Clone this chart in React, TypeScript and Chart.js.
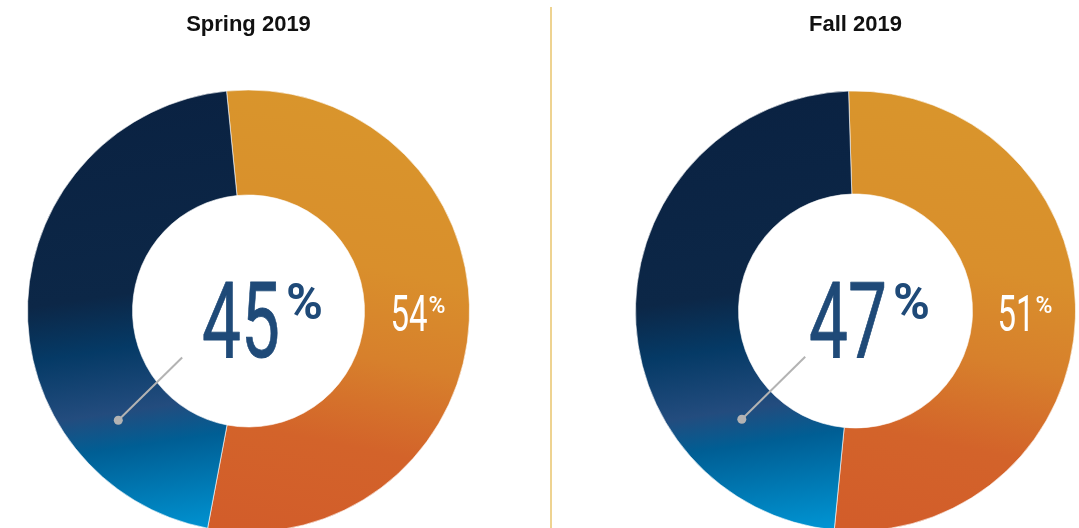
import React, { useEffect, useRef } from "react";
import { Chart, registerables } from "chart.js";

Chart.register(...registerables);

// ---- data ----
const categories = ["Share B", "Share A"]; // orange segment, navy segment
const titles = ["Spring 2019", "Fall 2019"];
const orangeValues = [54, 51];
const navyValues = [45, 47];
const rotations = [-5.7, -1.8];

// ---- styles ----
const NAVY_STOPS: [number, string][] = [
  [0, "#0a2242"],
  [0.42, "#0c2747"],
  [0.54, "#053a66"],
  [0.68, "#234c7e"],
  [0.76, "#005e94"],
  [1, "#009bdb"],
];
const ORANGE_STOPS: [number, string][] = [
  [0, "#d9952c"],
  [0.35, "#d98f2c"],
  [0.55, "#d7802c"],
  [0.75, "#d3632a"],
  [1, "#d25c2a"],
];

type Layout = {
  left: number;
  radius: number;
  cutout: number;
  pad: number;
  leader: { sR: number; sA: number; eR: number; eA: number };
};

const layouts: Layout[] = [
  { left: 0, radius: 221.5, cutout: 116, pad: 27, leader: { sR: 81, sA: 145, eR: 170, eA: 140 } },
  { left: 605, radius: 220.5, cutout: 117, pad: 30, leader: { sR: 68, sA: 137.7, eR: 157, eA: 136.4 } },
];
const CENTER_Y = 311;

function makeGrad(chart: any, stops: [number, string][], tilt: number) {
  const a = chart.chartArea;
  if (!a) return stops[0][1];
  const cx = (a.left + a.right) / 2;
  const cy = (a.top + a.bottom) / 2;
  const r = Math.min(a.right - a.left, a.bottom - a.top) / 2;
  const g = chart.ctx.createLinearGradient(cx - tilt * r, cy - r, cx + tilt * r, cy + r);
  stops.forEach(([o, c]) => g.addColorStop(o, c));
  return g;
}

function drawNumPct(
  ctx: CanvasRenderingContext2D,
  num: string,
  centerX: number,
  baseline: number,
  numFont: string,
  sx: number,
  pctFont: string,
  pctRise: number,
  gap: number,
  color: string,
  stroke: number
) {
  ctx.save();
  ctx.fillStyle = color;
  ctx.strokeStyle = color;
  ctx.textAlign = "left";
  ctx.textBaseline = "alphabetic";
  ctx.font = numFont;
  const nw = ctx.measureText(num).width * sx;
  ctx.font = pctFont;
  const pw = ctx.measureText("%").width;
  const total = nw + gap + pw;
  const left = centerX - total / 2;
  ctx.save();
  ctx.translate(left, baseline);
  ctx.scale(sx, 1);
  ctx.font = numFont;
  ctx.fillText(num, 0, 0);
  if (stroke > 0) {
    ctx.lineWidth = stroke;
    ctx.lineJoin = "round";
    ctx.strokeText(num, 0, 0);
  }
  ctx.restore();
  ctx.font = pctFont;
  ctx.fillText("%", left + nw + gap, baseline - pctRise);
  ctx.restore();
}

const overlayPlugin = {
  id: "overlay",
  afterDatasetsDraw(chart: any, _args: any, opts: any) {
    const ctx: CanvasRenderingContext2D = chart.ctx;
    const arc = chart.getDatasetMeta(0).data[0];
    if (!arc) return;
    const { x: cx, y: cy, innerRadius, outerRadius } = arc.getProps(
      ["x", "y", "innerRadius", "outerRadius"],
      true
    );
    const mid = (innerRadius + outerRadius) / 2;
    const L = opts.leader;
    const rad = (d: number) => (d * Math.PI) / 180;
    const sx = cx + L.sR * Math.cos(rad(L.sA));
    const sy = cy + L.sR * Math.sin(rad(L.sA));
    const ex = cx + L.eR * Math.cos(rad(L.eA));
    const ey = cy + L.eR * Math.sin(rad(L.eA));
    ctx.save();
    ctx.strokeStyle = "#b3b3b3";
    ctx.lineWidth = 2;
    ctx.beginPath();
    ctx.moveTo(sx, sy);
    ctx.lineTo(ex, ey);
    ctx.stroke();
    ctx.fillStyle = "#b3b3b3";
    ctx.beginPath();
    ctx.arc(ex, ey, 4.5, 0, Math.PI * 2);
    ctx.fill();
    ctx.restore();

    // center big value
    drawNumPct(
      ctx,
      String(opts.center),
      cx + 14,
      cy + 46,
      "400 105px Roboto, sans-serif",
      0.66,
      "bold 50px Roboto, sans-serif",
      38,
      6,
      "#1f4a78",
      0.8
    );
    // ring label
    drawNumPct(
      ctx,
      String(opts.outer),
      cx + mid + 1,
      cy + 20,
      "400 50px Roboto, sans-serif",
      0.66,
      "500 23px Roboto, sans-serif",
      18,
      1,
      "#ffffff",
      0
    );
    // title
    ctx.save();
    ctx.fillStyle = "#111111";
    ctx.textAlign = "center";
    ctx.textBaseline = "alphabetic";
    ctx.font = "bold 22px 'Liberation Sans', Arial, sans-serif";
    ctx.fillText(opts.title, cx, 31);
    ctx.restore();
  },
};

function Donut({ idx }: { idx: number }) {
  const ref = useRef<HTMLCanvasElement>(null);
  const lay = layouts[idx];
  const w = Math.round(2 * (lay.radius + lay.pad));
  const h = 2 * CENTER_Y;
  useEffect(() => {
    if (!ref.current) return;
    const padV = (h - 2 * lay.radius) / 2;
    const chart = new Chart(ref.current, {
      type: "doughnut",
      data: {
        labels: categories,
        datasets: [
          {
            data: [orangeValues[idx], navyValues[idx]],
            backgroundColor: (c: any) =>
              c.dataIndex === 0
                ? makeGrad(c.chart, ORANGE_STOPS, -0.2)
                : makeGrad(c.chart, NAVY_STOPS, 0.15),
            borderWidth: 1,
            borderColor: "rgba(255,255,255,0.6)",
          },
        ],
      },
      options: {
        responsive: false,
        animation: false,
        events: [],
        rotation: rotations[idx],
        cutout: lay.cutout,
        layout: {
          padding: { left: lay.pad, right: lay.pad, top: padV, bottom: padV },
        },
        plugins: {
          legend: { display: false },
          tooltip: { enabled: false },
          overlay: {
            center: navyValues[idx],
            outer: orangeValues[idx],
            title: titles[idx],
            leader: lay.leader,
          },
        } as any,
      },
      plugins: [overlayPlugin as any],
    });
    return () => chart.destroy();
  }, [idx]);
  return (
    <canvas
      ref={ref}
      width={w}
      height={h}
      style={{ position: "absolute", left: lay.left, top: 0, width: w, height: h }}
    />
  );
}

export default function App() {
  return (
    <div
      style={{
        position: "fixed",
        left: 0,
        top: 0,
        width: 1079,
        height: 528,
        overflow: "hidden",
        background: "#ffffff",
      }}
    >
      <div
        style={{
          position: "absolute",
          left: 550,
          top: 7,
          width: 2,
          height: 521,
          background: "#eed391",
        }}
      />
      <Donut idx={0} />
      <Donut idx={1} />
    </div>
  );
}
